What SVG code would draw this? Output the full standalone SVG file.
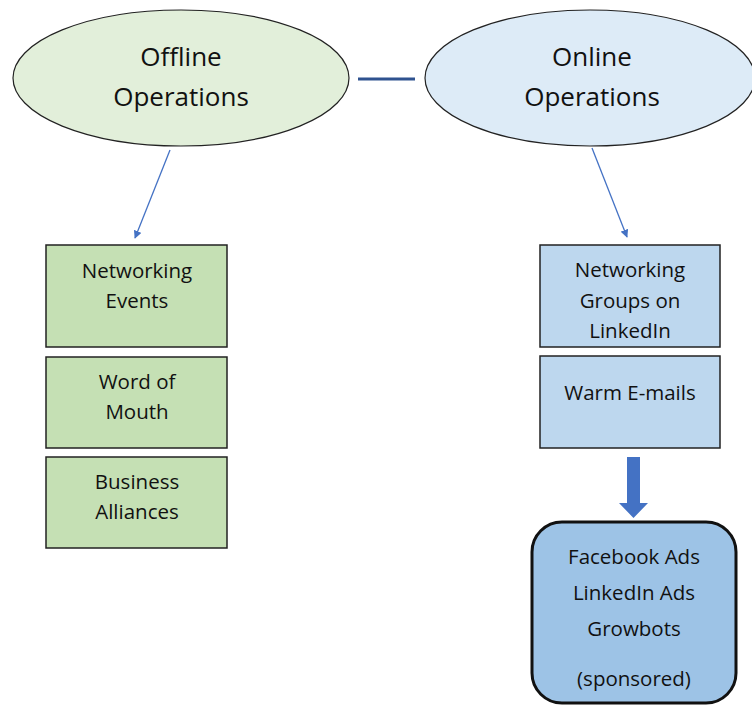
<svg xmlns="http://www.w3.org/2000/svg" width="752" height="706" viewBox="0 0 752 706">
<style>
text{font-family:"Open Sans","Liberation Sans",sans-serif;fill:#111;text-anchor:middle}
.big{font-size:26px}
.sm{font-size:20.5px}
.g{fill:#C5E0B4;stroke:#222;stroke-width:1.5}
.b{fill:#BDD7EE;stroke:#222;stroke-width:1.5}
</style>
<defs>
<marker id="ah" viewBox="0 0 10 10" refX="9" refY="5" markerWidth="8" markerHeight="8" orient="auto" markerUnits="userSpaceOnUse">
<path d="M0,0 L10,5 L0,10 z" fill="#4472C4"/>
</marker>
</defs>
<rect width="752" height="706" fill="#fff"/>
<g id="connectors">
<line x1="358" y1="79" x2="415" y2="79" stroke="#2F528F" stroke-width="3"/>
<line x1="170" y1="150" x2="135" y2="238" stroke="#4472C4" stroke-width="1.3" marker-end="url(#ah)"/>
<line x1="592" y1="148" x2="627" y2="237" stroke="#4472C4" stroke-width="1.3" marker-end="url(#ah)"/>
<path d="M627,457 H640 V503 H648 L633.5,518 L619,503 H627 Z" fill="#4472C4"/>
</g>
<g id="offline">
<ellipse cx="181" cy="78" rx="168" ry="68" fill="#E2EFDA" stroke="#222" stroke-width="1.2"/>
<text class="big" x="181" y="66">Offline</text>
<text class="big" x="181" y="106">Operations</text>
</g>
<g id="online">
<ellipse cx="590" cy="78" rx="165" ry="68" fill="#DDEBF7" stroke="#222" stroke-width="1.2"/>
<text class="big" x="592" y="66">Online</text>
<text class="big" x="592" y="106">Operations</text>
</g>
<g id="networking-events">
<rect class="g" x="46" y="245" width="181" height="102"/>
<text class="sm" x="137" y="278">Networking</text>
<text class="sm" x="137" y="308">Events</text>
</g>
<g id="word-of-mouth">
<rect class="g" x="46" y="357" width="181" height="91"/>
<text class="sm" x="137" y="389">Word of</text>
<text class="sm" x="137" y="419">Mouth</text>
</g>
<g id="business-alliances">
<rect class="g" x="46" y="457" width="181" height="91"/>
<text class="sm" x="137" y="489">Business</text>
<text class="sm" x="137" y="519">Alliances</text>
</g>
<g id="networking-groups">
<rect class="b" x="540" y="245" width="180" height="102"/>
<text class="sm" x="630" y="277">Networking</text>
<text class="sm" x="630" y="308">Groups on</text>
<text class="sm" x="630" y="338">LinkedIn</text>
</g>
<g id="warm-emails">
<rect class="b" x="540" y="356" width="180" height="92"/>
<text class="sm" x="630" y="400">Warm E-mails</text>
</g>
<g id="sponsored">
<rect x="532" y="522" width="204" height="181" rx="30" fill="#9DC3E6" stroke="#111" stroke-width="3"/>
<text class="sm" x="634" y="564">Facebook Ads</text>
<text class="sm" x="634" y="600">LinkedIn Ads</text>
<text class="sm" x="634" y="636">Growbots</text>
<text class="sm" x="634" y="686">(sponsored)</text>
</g>
</svg>
